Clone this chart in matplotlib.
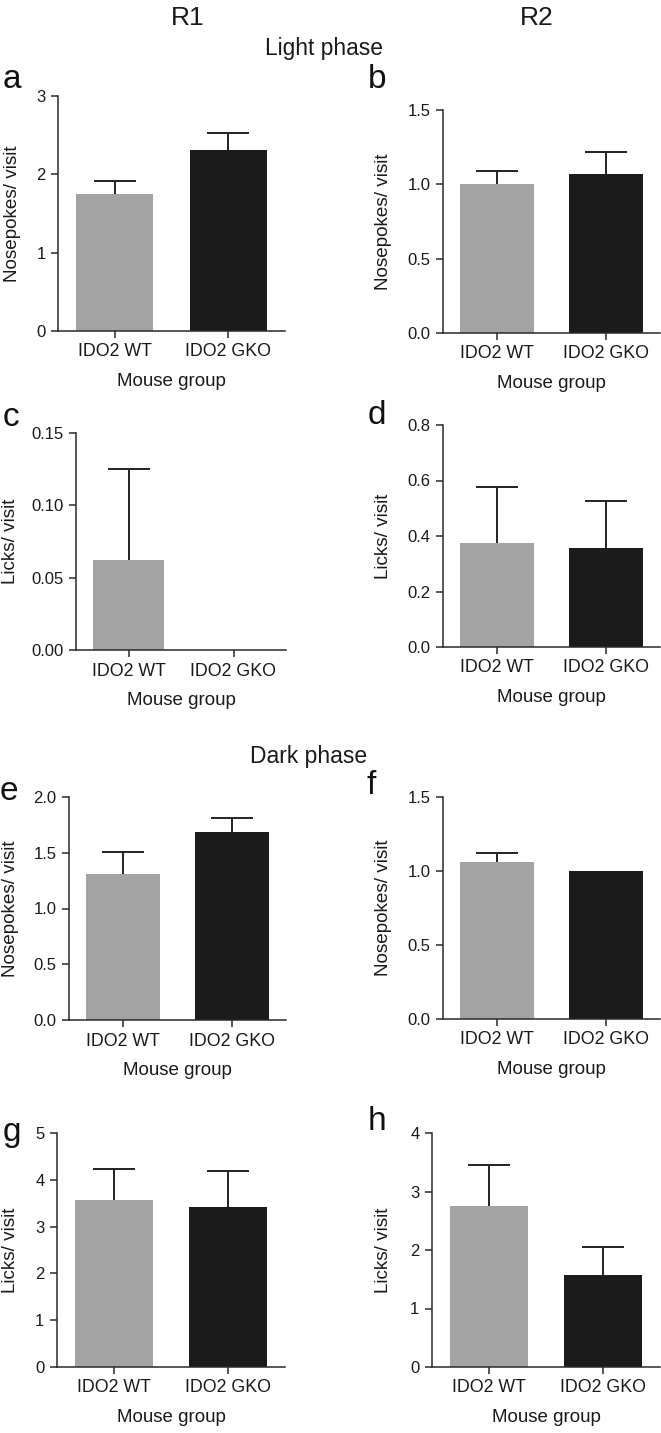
import matplotlib
matplotlib.use("Agg")
import matplotlib.pyplot as plt
from matplotlib.ticker import FormatStrFormatter

plt.rcParams['font.family'] = ['Liberation Sans', 'DejaVu Sans']

# Data (mean, upper error)
groups = ['IDO2 WT', 'IDO2 GKO']
bar_colors = ['#a3a3a3', '#1b1b1b']

a_mean = [1.75, 2.31]
a_err = [0.17, 0.22]
b_mean = [1.00, 1.07]
b_err = [0.09, 0.15]
c_mean = [0.0625, 0.0]
c_err = [0.0625, 0.0]
d_mean = [0.375, 0.357]
d_err = [0.20, 0.17]
e_mean = [1.31, 1.69]
e_err = [0.20, 0.12]
f_mean = [1.063, 1.0]
f_err = [0.06, 0.0]
g_mean = [3.57, 3.41]
g_err = [0.67, 0.78]
h_mean = [2.75, 1.57]
h_err = [0.71, 0.48]

W, H = 661, 1433
fig = plt.figure(figsize=(W / 100, H / 100), dpi=100)

# panel: letter, means, errs, ylabel, yticks, fmt, (x0, x1, ytop, ybot) in px, letter pos
panels = [
    ('a', a_mean, a_err, 'Nosepokes/ visit', [0, 1, 2, 3], '%d', (58, 285, 96, 331), (12, 80)),
    ('b', b_mean, b_err, 'Nosepokes/ visit', [0, 0.5, 1.0, 1.5], '%.1f', (443, 660, 110, 333), (377, 79)),
    ('c', c_mean, c_err, 'Licks/ visit', [0, 0.05, 0.10, 0.15], '%.2f', (76, 286, 433, 650), (11, 418)),
    ('d', d_mean, d_err, 'Licks/ visit', [0, 0.2, 0.4, 0.6, 0.8], '%.1f', (443, 660, 425, 647), (377, 416)),
    ('e', e_mean, e_err, 'Nosepokes/ visit', [0, 0.5, 1.0, 1.5, 2.0], '%.1f', (69, 286, 797, 1020), (9, 791)),
    ('f', f_mean, f_err, 'Nosepokes/ visit', [0, 0.5, 1.0, 1.5], '%.1f', (443, 660, 797, 1019), (371, 786)),
    ('g', g_mean, g_err, 'Licks/ visit', [0, 1, 2, 3, 4, 5], '%d', (57, 285, 1133, 1367), (12, 1132)),
    ('h', h_mean, h_err, 'Licks/ visit', [0, 1, 2, 3, 4], '%d', (432, 660, 1133, 1367), (377, 1122)),
]

ylabel_right = {'a': 21, 'b': 392, 'c': 19, 'd': 392, 'e': 19, 'f': 392, 'g': 19, 'h': 392}
axis_col = '#2a2a2a'
txt_col = '#1a1a1a'

for letter, means, errs, ylab, yticks, fmt, (x0, x1, yt, yb), (lx, ly) in panels:
    ax = fig.add_axes([x0 / W, 1 - yb / H, (x1 - x0) / W, (yb - yt) / H])
    xs = list(range(len(groups)))
    ax.bar(xs, means, width=0.68, color=bar_colors, zorder=2)
    for x, m, e in zip(xs, means, errs):
        if e > 0:
            _, caps, _ = ax.errorbar(x, m, yerr=[[0], [e]], fmt='none', ecolor='#222222',
                                     elinewidth=1.4, capsize=15, capthick=1.4, zorder=1)
            # keep only the upper cap
            for cap in caps:
                if abs(cap.get_ydata()[0] - m) < 1e-12:
                    cap.set_visible(False)
    ax.set_xlim(-0.5, 1.5)
    ax.set_ylim(yticks[0], yticks[-1])
    ax.set_yticks(yticks)
    ax.yaxis.set_major_formatter(FormatStrFormatter(fmt))
    ax.set_xticks(xs)
    ax.set_xticklabels(groups)
    for s in ['top', 'right']:
        ax.spines[s].set_visible(False)
    for s in ['left', 'bottom']:
        ax.spines[s].set_color(axis_col)
        ax.spines[s].set_linewidth(1.1)
    ax.tick_params(direction='out', length=5, width=1.1, color=axis_col,
                   labelcolor=txt_col, pad=4)
    ax.tick_params(axis='x', labelsize=12.8)
    ax.tick_params(axis='y', labelsize=12)
    ax.set_xlabel('Mouse group', fontsize=13.5, color=txt_col)
    ax.xaxis.set_label_coords(0.5, -42 / (yb - yt))
    ax.xaxis.label.set_va('top')
    ax.set_ylabel(ylab, fontsize=13.6, color=txt_col)
    ax.yaxis.set_label_coords((ylabel_right[letter] - x0) / (x1 - x0), 0.5)
    fig.text(lx / W, 1 - ly / H, letter, fontsize=24, ha='center', va='center', color='#111111')

fig.text(188 / W, 1 - 18 / H, 'R1', fontsize=19, ha='center', va='center', color=txt_col)
fig.text(537 / W, 1 - 18 / H, 'R2', fontsize=19, ha='center', va='center', color=txt_col)
fig.text(324 / W, 1 - 49 / H, 'Light phase', fontsize=16.4, ha='center', va='center', color=txt_col)
fig.text(309 / W, 1 - 756 / H, 'Dark phase', fontsize=16.5, ha='center', va='center', color=txt_col)

fig.savefig('out.png', dpi=100)
